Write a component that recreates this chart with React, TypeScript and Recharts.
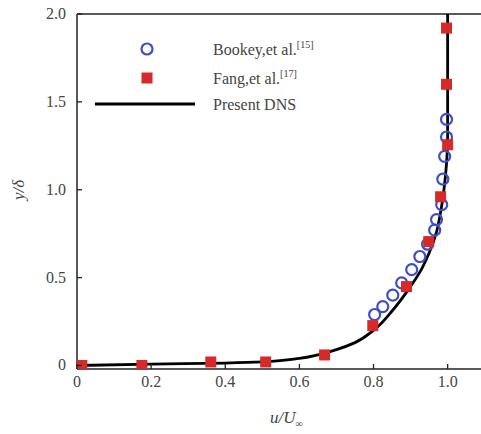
import React from "react";
import {
  ComposedChart,
  Scatter,
  Line,
  XAxis,
  YAxis,
  ReferenceLine,
  Legend,
  Label,
} from "recharts";

const xTicks = [0, 0.2, 0.4, 0.6, 0.8, 1.0];
const yTicks = [0, 0.5, 1.0, 1.5, 2.0];

const bookeyX = [0.803, 0.825, 0.852, 0.876, 0.903, 0.925, 0.946, 0.965, 0.97, 0.984, 0.987, 0.992, 0.997, 0.997];
const bookeyY = [0.29, 0.335, 0.4, 0.47, 0.545, 0.62, 0.69, 0.77, 0.83, 0.915, 1.06, 1.19, 1.3, 1.4];

const fangX = [0.013, 0.175, 0.361, 0.509, 0.668, 0.798, 0.889, 0.949, 0.981, 1.0, 0.997, 0.997];
const fangY = [0, 0, 0.02, 0.02, 0.06, 0.227, 0.449, 0.705, 0.96, 1.256, 1.6, 1.92];

const dnsX = [0, 0.2, 0.4, 0.5, 0.6, 0.65, 0.7, 0.75, 0.8, 0.85, 0.9, 0.93, 0.95, 0.97, 0.98, 0.99, 0.997, 1.0, 1.0];
const dnsY = [0, 0.008, 0.014, 0.02, 0.04, 0.06, 0.09, 0.13, 0.2, 0.31, 0.45, 0.55, 0.64, 0.76, 0.86, 1.0, 1.15, 1.3, 2.0];

const zip = (xs: number[], ys: number[]) => xs.map((x, i) => ({ x, y: ys[i] }));

const bookey = zip(bookeyX, bookeyY);
const fang = zip(fangX, fangY);
const dns = zip(dnsX, dnsY);

const FONT = "'Liberation Serif', 'DejaVu Serif', serif";
const BLUE = "#3d4fc4";
const RED = "#d62a2a";
const TEXT = "#444";

const Circle = (props: any) => (
  <circle cx={props.cx} cy={props.cy} r={5.5} fill="none" stroke={BLUE} strokeWidth={2.2} />
);

const Square = (props: any) => (
  <rect x={props.cx - 5.5} y={props.cy - 5.5} width={11} height={11} fill={RED} />
);

const XTick = (props: any) => {
  const { x, y, payload } = props;
  const axisY = y - 8;
  return (
    <g>
      <line x1={x} x2={x} y1={axisY} y2={axisY - 5} stroke="#222" strokeWidth={1.3} />
      <text x={x} y={y} dy={10} textAnchor="middle" fontFamily={FONT} fontSize={16} fill={TEXT}>
        {payload.value === 0 ? "0" : payload.value.toFixed(1)}
      </text>
    </g>
  );
};

const YTick = (props: any) => {
  const { x, y, payload } = props;
  const axisX = x + 11;
  return (
    <g>
      <line x1={axisX} x2={axisX + 5} y1={y} y2={y} stroke="#222" strokeWidth={1.3} />
      <text x={x} y={y} dy={5} textAnchor="end" fontFamily={FONT} fontSize={16} fill={TEXT}>
        {payload.value === 0 ? "0" : payload.value.toFixed(1)}
      </text>
    </g>
  );
};

const LegendBox = () => (
  <svg width={240} height={90} style={{ overflow: "visible" }}>
    <circle cx={70} cy={16} r={5.5} fill="none" stroke={BLUE} strokeWidth={2.2} />
    <text x={136} y={22} fontFamily={FONT} fontSize={16} fill={TEXT}>
      Bookey,et al.<tspan fontSize={10} dy={-7}>[15]</tspan>
    </text>
    <rect x={64.5} y={39.5} width={11} height={11} fill={RED} />
    <text x={136} y={51} fontFamily={FONT} fontSize={16} fill={TEXT}>
      Fang,et al.<tspan fontSize={10} dy={-7}>[17]</tspan>
    </text>
    <line x1={18} x2={118} y1={71} y2={71} stroke="#000" strokeWidth={3} />
    <text x={136} y={77} fontFamily={FONT} fontSize={16} fill={TEXT}>
      Present DNS
    </text>
  </svg>
);

export default function App() {
  return (
    <div style={{ position: "absolute", left: 0, top: 0, background: "#fff" }}>
      <ComposedChart width={481} height={434} margin={{ top: 14, right: 0, left: 0, bottom: 0 }}>
        <XAxis
          type="number"
          dataKey="x"
          domain={[0, 1.09]}
          ticks={xTicks}
          tick={<XTick />}
          tickLine={false}
          tickSize={0}
          tickMargin={8}
          height={65}
          axisLine={{ stroke: "#222", strokeWidth: 1.5 }}
          allowDataOverflow
        >
          <Label
            content={() => (
              <text x={270} y={423} fontFamily={FONT} fontSize={17} fontStyle="italic" fill={TEXT}>
                u/U<tspan fontSize={10} dy={4}>∞</tspan>
              </text>
            )}
          />
        </XAxis>
        <YAxis
          type="number"
          dataKey="y"
          domain={[-0.02, 2.0]}
          ticks={yTicks}
          tick={<YTick />}
          tickLine={false}
          tickSize={0}
          tickMargin={11}
          width={77}
          axisLine={{ stroke: "#222", strokeWidth: 1.5 }}
          allowDataOverflow
        >
          <Label
            content={() => (
              <text
                x={24}
                y={190}
                transform="rotate(-90 24 190)"
                textAnchor="middle"
                fontFamily={FONT}
                fontSize={17}
                fontStyle="italic"
                fill={TEXT}
              >
                y/δ
              </text>
            )}
          />
        </YAxis>
        <ReferenceLine y={2.0} stroke="#222" strokeWidth={1.5} />
        <Legend
          layout="vertical"
          align="center"
          verticalAlign="middle"
          wrapperStyle={{ left: 77, top: 33, width: 240 }}
          content={() => <LegendBox />}
        />
        <Scatter name="Bookey,et al.[15]" data={bookey} shape={<Circle />} isAnimationActive={false} />
        <Scatter name="Fang,et al.[17]" data={fang} shape={<Square />} isAnimationActive={false} />
        <Line
          name="Present DNS"
          data={dns}
          dataKey="y"
          type="monotoneY"
          stroke="#000"
          strokeWidth={2.8}
          dot={false}
          isAnimationActive={false}
        />
      </ComposedChart>
    </div>
  );
}
